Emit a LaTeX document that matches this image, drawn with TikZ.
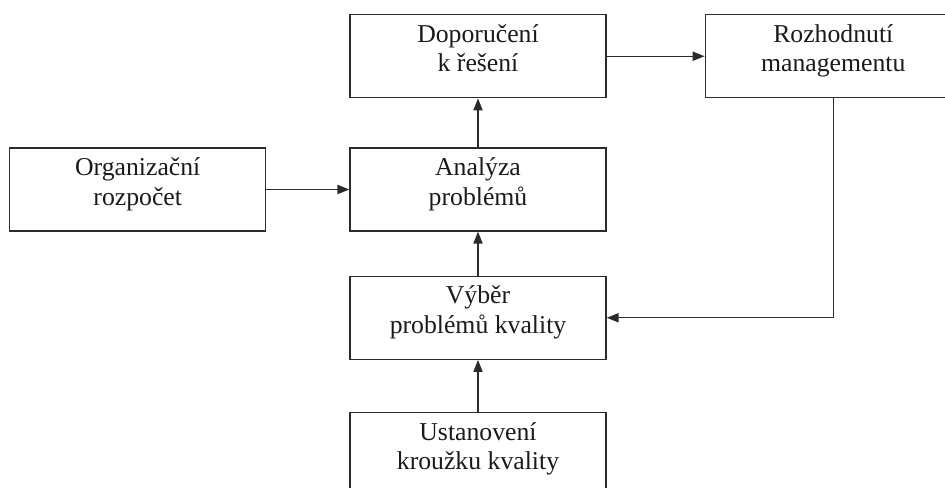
\documentclass[tikz,border=0pt]{standalone}
\usepackage{fontspec}
\setmainfont{Liberation Serif}
\usetikzlibrary{arrows.meta, positioning}
\definecolor{linegray}{HTML}{2B2B2B}
\definecolor{txtdark}{HTML}{1A1A1A}

% two lines of a box, sitting a bit above the middle
\newcommand{\boxlines}[2]{\raisebox{3.5pt}[\height][\depth]{\begin{tabular}{@{}c@{}}#1\\#2\end{tabular}}}

\begin{document}
\begin{tikzpicture}[
    >={Triangle[length=8.5pt, width=6.5pt]},
    font=\fontsize{18.3}{21}\selectfont,
    text=txtdark,
    stepbox/.style={
        draw=linegray, rectangle, line width=0.9pt,
        minimum width=6.4cm, minimum height=2.075cm,
        inner sep=0pt, align=center,
    },
    arr/.style={->, line width=0.9pt, color=linegray},
]
\clip (0,0) rectangle (23.625,-12.175);
\useasboundingbox (0,0) rectangle (23.625,-12.175);

% Nodes
\node[stepbox] (analyza) at (11.95,-4.7375) {\boxlines{Analýza}{problémů}};
\node[stepbox, above=1.225cm of analyza] (doporuceni) {\boxlines{Doporučení}{k řešení}};
\node[stepbox, right=2.45cm of doporuceni] (rozhodnuti) {\boxlines{Rozhodnutí}{managementu}};
\node[stepbox, left=2.075cm of analyza] (rozpocet) {\boxlines{Organizační}{rozpočet}};
\node[stepbox, below=1.1cm of analyza] (vyber) {\boxlines{Výběr}{problémů kvality}};
\node[stepbox, below=1.3cm of vyber] (ustanoveni) {\boxlines{Ustanovení}{kroužku kvality}};

% Arrows
\draw[arr] (rozpocet) -- (analyza);
\draw[arr] (analyza) -- (doporuceni);
\draw[arr] (doporuceni) -- (rozhodnuti);
\draw[arr] (ustanoveni) -- (vyber);
\draw[arr] (vyber) -- (analyza);

% Feedback from management
\draw[arr] (rozhodnuti.south) |- (vyber.east);

\end{tikzpicture}
\end{document}
